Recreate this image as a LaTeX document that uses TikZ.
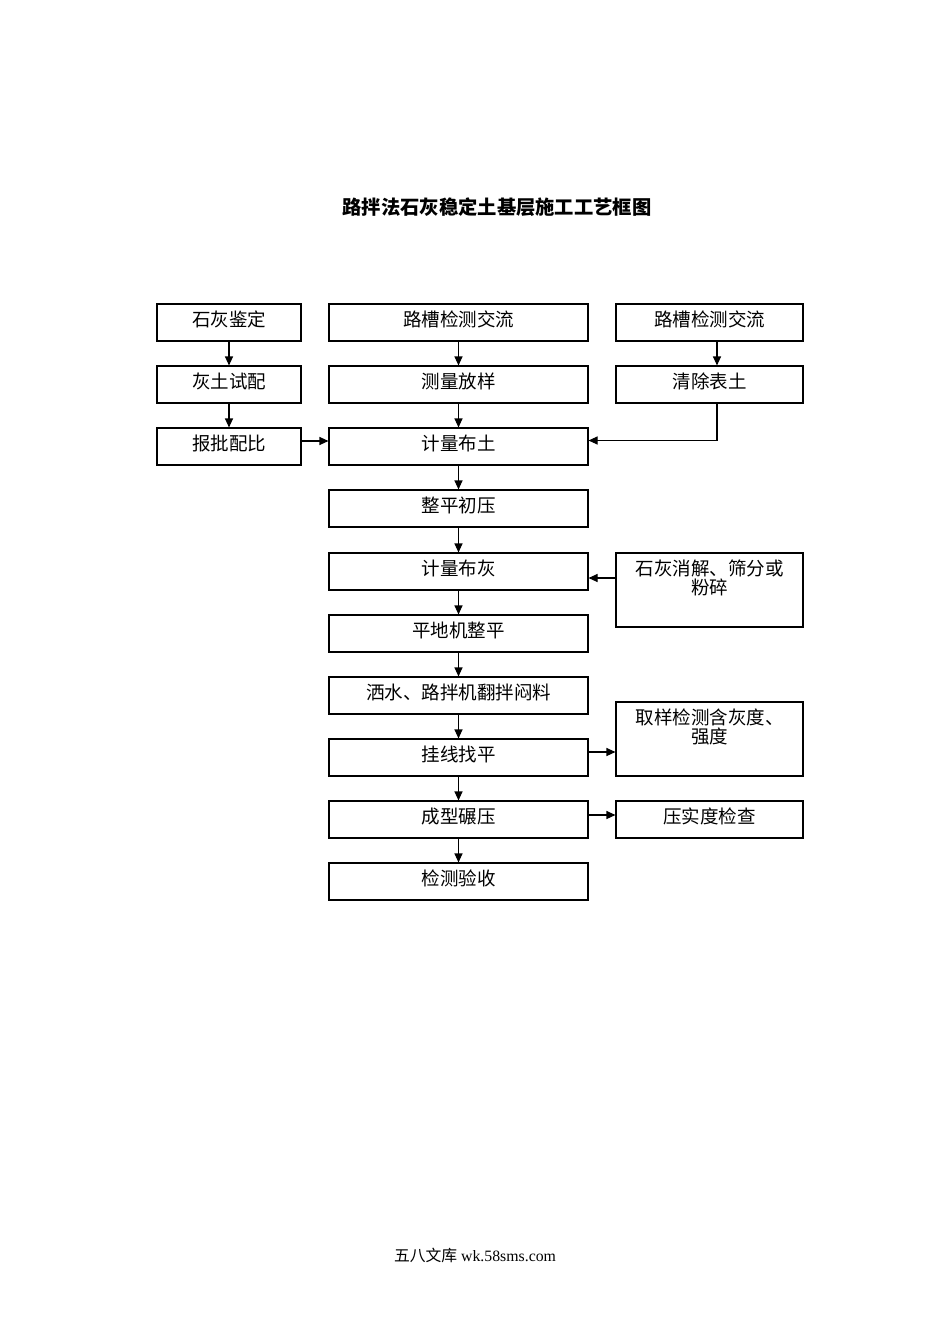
\documentclass[tikz,border=0pt]{standalone}
\usepackage{fontspec}
\setmainfont{Liberation Serif}
\newfontfamily\cjk{Noto Sans CJK SC}
\usetikzlibrary{arrows.meta}
\begin{document}
\begin{tikzpicture}[x=1pt,y=-1pt,
  box/.style={draw, line width=1.1pt, minimum height=37pt, inner sep=0pt,
    font=\cjk\fontsize{18.5}{19}\selectfont, text height=0.8em, text depth=0em},
  lbox/.style={box, minimum width=144pt},
  mbox/.style={box, minimum width=259pt},
  rbox/.style={box, minimum width=187pt},
  tallbox/.style={draw, line width=1.1pt, minimum width=187pt, inner sep=0pt},
  inlabel/.style={anchor=north, yshift=-7pt, align=center, inner sep=0pt,
    font=\cjk\fontsize{18.5}{19}\selectfont},
  arr/.style={line width=1.1pt, -{Triangle[length=9pt,width=8pt]}},
  ln/.style={line width=1.1pt}]
\useasboundingbox (0,0) rectangle (950,1344);

\node[font=\cjk\bfseries\fontsize{19.3}{22}\selectfont] (title) at (497,207) {路拌法石灰稳定土基层施工工艺框图};

% left column
\node[lbox] (l1) at (229,322.5) {石灰鉴定};
\node[lbox] (l2) at (229,384.5) {灰土试配};
\node[lbox] (l3) at (229,446.5) {报批配比};

% middle column
\node[mbox] (m1) at (458.5,322.5) {路槽检测交流};
\node[mbox] (m2) at (458.5,384.5) {测量放样};
\node[mbox] (m3) at (458.5,446.5) {计量布土};
\node[mbox] (m4) at (458.5,508.5) {整平初压};
\node[mbox] (m5) at (458.5,571.5) {计量布灰};
\node[mbox] (m6) at (458.5,633.5) {平地机整平};
\node[mbox] (m7) at (458.5,695.5) {洒水、路拌机翻拌闷料};
\node[mbox] (m8) at (458.5,757.5) {挂线找平};
\node[mbox] (m9) at (458.5,819.5) {成型碾压};
\node[mbox] (m10) at (458.5,881.5) {检测验收};

% right column
\node[rbox] (r1) at (709.5,322.5) {路槽检测交流};
\node[rbox] (r2) at (709.5,384.5) {清除表土};
\node[tallbox, minimum height=74pt,
  label={[inlabel]north:石灰消解、筛分或\\粉碎}] (r3) at (709.5,590) {};
\node[tallbox, minimum height=74pt,
  label={[inlabel]north:取样检测含灰度、\\强度}] (r4) at (709.5,739) {};
\node[rbox] (r5) at (709.5,819.5) {压实度检查};

% left arrows
\draw[arr] (l1.south) -- (l2.north);
\draw[arr] (l2.south) -- (l3.north);
\draw[arr] ([yshift=5.5pt]l3.east) -- ([yshift=5.5pt]m3.west);

% middle arrows
\draw[arr] (m1.south) -- (m2.north);
\draw[arr] (m2.south) -- (m3.north);
\draw[arr] (m3.south) -- (m4.north);
\draw[arr] (m4.south) -- (m5.north);
\draw[arr] (m5.south) -- (m6.north);
\draw[arr] (m6.south) -- (m7.north);
\draw[arr] (m7.south) -- (m8.north);
\draw[arr] (m8.south) -- (m9.north);
\draw[arr] (m9.south) -- (m10.north);

% right arrows
\draw[arr] ([xshift=7.5pt]r1.south) -- ([xshift=7.5pt]r2.north);
\coordinate (p1) at ([yshift=6pt]m3.east);
\draw[arr] ([xshift=7.5pt]r2.south) |- (p1);
\coordinate (p2) at ([yshift=-6.5pt]m5.east);
\draw[arr] (p2 -| r3.west) -- (p2);
\coordinate (p3) at ([yshift=5.5pt]m8.east);
\draw[arr] (p3) -- (p3 -| r4.west);
\coordinate (p4) at ([yshift=4.5pt]m9.east);
\draw[arr] (p4) -- (p4 -| r5.west);

% footer
\node[font=\fontsize{15.8}{18}\selectfont] (footer) at (475,1255) {{\cjk 五八文库} wk.58sms.com};
\end{tikzpicture}
\end{document}
